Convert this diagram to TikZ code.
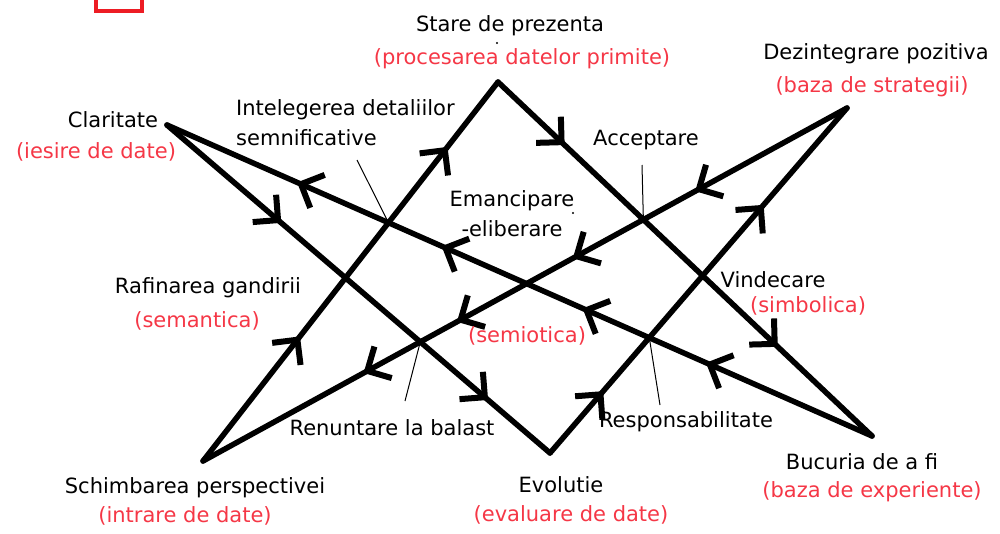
\documentclass[tikz,border=0pt]{standalone}
\usepackage{fontspec}
\setmainfont{DejaVu Sans}
\usetikzlibrary{decorations.markings}
\definecolor{lblred}{RGB}{245,55,70}
\definecolor{boxred}{RGB}{237,28,36}
\begin{document}
\begin{tikzpicture}[x=1pt,y=-1pt,
  edge/.style={line width=5.5pt, line cap=round, line join=round},
  tip at/.style={postaction={decorate, decoration={markings, mark=at position #1 with {\draw[line width=6pt, line cap=butt, line join=miter] (-18pt,18pt) -- (0pt,0pt) -- (-18pt,-18pt);}}}},
  lbl/.style={font=\fontsize{21}{30}\selectfont, inner sep=0pt, text=black},
  rlbl/.style={lbl, text=lblred},
  leader/.style={line width=1pt}]
\useasboundingbox (0,0) rectangle (1000,533);
% red square (cut off at top)
\draw[boxred, line width=3.5pt] (96,-20) rectangle (142,11);
% vertices
\coordinate (C) at (167,125);
\coordinate (S) at (498,82);
\coordinate (D) at (847,108);
\coordinate (P) at (203,461);
\coordinate (E) at (550,453);
\coordinate (B) at (872,436);
% edges
\draw[edge, tip at=0.29, tip at=0.83] (C) -- (E);
\draw[edge, tip at=0.17, tip at=0.74] (S) -- (B);
\draw[edge, tip at=0.32, tip at=0.82] (P) -- (S);
\draw[edge, tip at=0.17, tip at=0.71] (E) -- (D);
\draw[edge, tip at=0.23, tip at=0.42, tip at=0.60, tip at=0.745] (D) -- (P);
\draw[edge, tip at=0.23, tip at=0.405, tip at=0.605, tip at=0.81] (B) -- (C);
% intersections
\coordinate (x1) at (intersection of P--S and B--C);
\coordinate (x2) at (intersection of S--B and D--P);
\coordinate (x3) at (intersection of C--E and D--P);
\coordinate (x4) at (intersection of E--D and B--C);
% leader lines
\coordinate (l1) at (357,160);
\coordinate (l2) at (642,165);
\coordinate (l3) at (405,401);
\coordinate (l4) at (660,405);
\draw[leader] (l1) -- (x1);
\draw[leader] (l2) -- (x2);
\draw[leader] (l3) -- (x3);
\draw[leader] (l4) -- (x4);
% small marks
\fill (497,43) circle (1.2);
\fill (573,213) circle (1.2);
% labels
\node[lbl] (stare) at (510,26) {Stare de prezenta};
\node[rlbl] (stareR) at (522,59) {(procesarea datelor primite)};
\node[lbl] (dez) at (876,54) {Dezintegrare pozitiva};
\node[rlbl] (dezR) at (872,87) {(baza de strategii)};
\node[lbl] (clar) at (113,120) {Claritate};
\node[rlbl] (clarR) at (96,152) {(iesire de date)};
\node[lbl, align=left, anchor=west] (intel) at (236,123) {Intelegerea detaliilor\\semnificative};
\node[lbl] (accept) at (646,140) {Acceptare};
\node[lbl, align=center] (eman) at (512,214) {Emancipare\\-eliberare};
\node[lbl] (raf) at (208,288) {Rafinarea gandirii};
\node[rlbl] (rafR) at (197,321) {(semantica)};
\node[lbl] (vind) at (773,280) {Vindecare};
\node[rlbl] (vindR) at (808,306) {(simbolica)};
\node[rlbl] (semio) at (527,336) {(semiotica)};
\node[lbl] (renunt) at (392,428) {Renuntare la balast};
\node[lbl] (resp) at (686,422) {Responsabilitate};
\node[lbl] (schimb) at (195,488) {Schimbarea perspectivei};
\node[rlbl] (schimbR) at (185,516) {(intrare de date)};
\node[lbl] (evol) at (561,485) {Evolutie};
\node[rlbl] (evolR) at (571,515) {(evaluare de date)};
\node[lbl] (bucur) at (862,462) {Bucuria de a fi};
\node[rlbl] (bucurR) at (872,492) {(baza de experiente)};
\end{tikzpicture}
\end{document}
